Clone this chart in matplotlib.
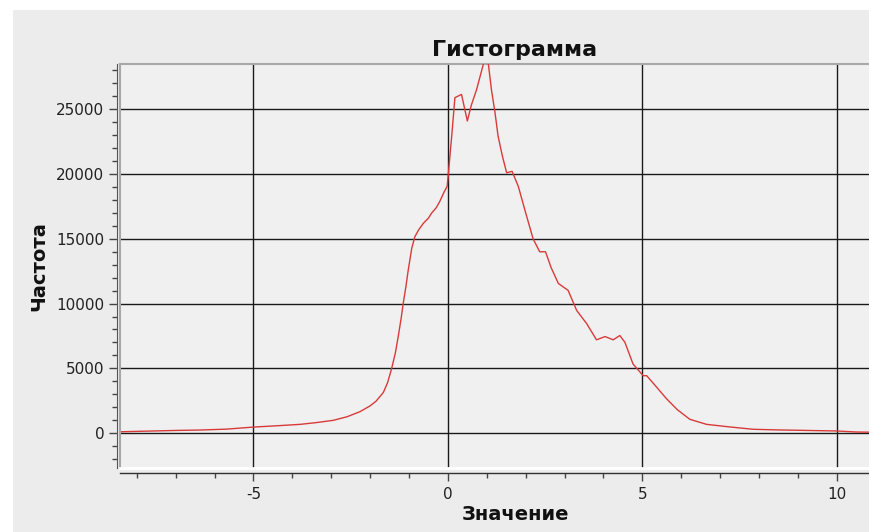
import matplotlib
matplotlib.use("Agg")
import matplotlib.pyplot as plt
from matplotlib.patches import Rectangle
from matplotlib.ticker import MultipleLocator

plt.rcParams["axes.unicode_minus"] = False

# ---- data ----
values = [-8.4, -7.7, -7.0, -6.4, -5.7, -5.0, -4.4, -3.8, -3.4, -2.95, -2.6, -2.26,
          -2.0, -1.85, -1.66, -1.55, -1.45, -1.35, -1.28, -1.2, -1.15, -1.08, -1.02,
          -0.93, -0.85, -0.75, -0.63, -0.5, -0.42, -0.3, -0.21, -0.1, -0.02, 0.02,
          0.1, 0.18, 0.35, 0.5, 0.6, 0.74, 0.93, 1.04, 1.12, 1.21, 1.29, 1.4, 1.51,
          1.65, 1.81, 2.0, 2.19, 2.36, 2.51, 2.65, 2.84, 3.09, 3.31, 3.57, 3.82,
          4.04, 4.25, 4.42, 4.55, 4.76, 5.02, 5.11, 5.35, 5.62, 5.9, 6.22, 6.65,
          7.25, 7.85, 8.5, 9.05, 9.99, 10.5, 11.0, 11.8]
freq = [100, 150, 200, 230, 300, 460, 560, 670, 800, 980, 1250, 1650,
        2100, 2450, 3130, 3900, 4940, 6200, 7400, 8900, 9990, 11300, 12580,
        14260, 15160, 15700, 16200, 16600, 16980, 17400, 17880, 18600, 19050, 20300,
        23000, 25900, 26150, 24100, 25300, 26550, 28700, 28500, 26500, 24770, 22930, 21400, 20100,
        20210, 19050, 17000, 15000, 14000, 14000, 12800, 11550, 11020, 9470, 8440, 7200,
        7450, 7200, 7530, 7010, 5330, 4430, 4430, 3600, 2650, 1800, 1060, 670,
        470, 290, 240, 210, 160, 80, 60, 50]

x_major = [-5, 0, 5, 10]
y_major = [0, 5000, 10000, 15000, 20000, 25000]
title = "Гистограмма"
xlabel = "Значение"
ylabel = "Частота"

W, H = 869, 532
fig = plt.figure(figsize=(W / 100, H / 100), dpi=100, facecolor="white")
fig.patches.append(Rectangle((13 / W, 0), 1, 1 - 10 / H, transform=fig.transFigure,
                             facecolor="#ececec", edgecolor="none", zorder=-10))

left, right = 120 / W, 910 / W
top, bottom = 1 - 64 / H, 1 - 468 / H
ax = fig.add_axes([left, bottom, right - left, top - bottom])
ax.set_facecolor("#f0f0f0")

ax.plot(values, freq, color="#d83a3a", lw=1.0, zorder=3)

ax.set_xlim(-8.43, 11.88)
ax.set_ylim(-2700, 28500)

ax.set_xticks(x_major)
ax.set_yticks(y_major)
ax.xaxis.set_minor_locator(MultipleLocator(1))
ax.yaxis.set_minor_locator(MultipleLocator(1000))
ax.grid(True, which="major", color="#1a1a1a", lw=1.0)
ax.set_axisbelow(True)

ax.spines["right"].set_visible(False)
ax.spines["top"].set_color("#a8a8a8")
ax.spines["top"].set_linewidth(1.5)
ax.spines["left"].set_position(("outward", 2.2))
ax.spines["left"].set_color("#555555")
ax.spines["bottom"].set_position(("outward", 3.6))
ax.spines["bottom"].set_color("#333333")
ax.spines["bottom"].set_linewidth(1.0)
# plot-area border lines (decoration)
ax.plot([0, 0], [0, 1], transform=ax.transAxes, color="#a8a8a8", lw=1.5,
        clip_on=False, zorder=4)
ax.plot([0, 1], [0, 0], transform=ax.transAxes, color="white", lw=2.0,
        clip_on=False, zorder=4)

ax.tick_params(axis="both", which="major", direction="out", length=6, width=1,
               color="#444444", labelsize=11, labelcolor="#222222")
ax.tick_params(axis="both", which="minor", direction="out", length=3.5, width=1,
               color="#444444")
ax.tick_params(axis="x", pad=4)
ax.tick_params(axis="y", pad=3)

ax.set_title(title, fontsize=16, fontweight="bold", pad=6, color="#111111")
ax.set_xlabel(xlabel, fontsize=14, fontweight="bold", labelpad=2, color="#111111")
ax.set_ylabel(ylabel, fontsize=14, fontweight="bold", labelpad=6, color="#111111")

fig.savefig("out.png", dpi=100, facecolor=fig.get_facecolor())
